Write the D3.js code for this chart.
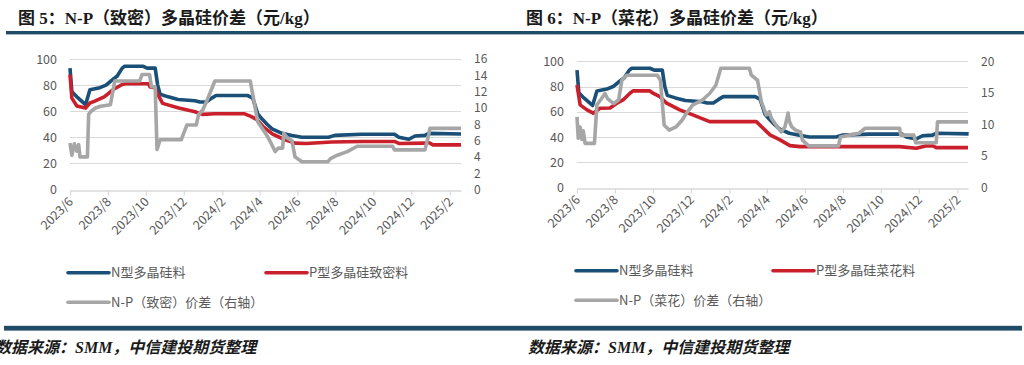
<!DOCTYPE html>
<html>
<head>
<meta charset="utf-8">
<script src="https://cdn.jsdelivr.net/npm/d3@7"></script>
<style>
  body { margin: 0; background: #fff; }
  svg { display: block; }
  text { font-family: "Noto Sans CJK SC", "Noto Sans", sans-serif; }
</style>
</head>
<body>
<svg id="chart" width="1024" height="365"></svg>
<script>
// x axis tick labels (every 2 months)
var tickLabels = ["2023/6", "2023/8", "2023/10", "2023/12", "2024/2", "2024/4",
                  "2024/6", "2024/8", "2024/10", "2024/12", "2025/2"];
var leftTicks = [0, 20, 40, 60, 80, 100];
var denseRightTicks = [0, 2, 4, 6, 8, 10, 12, 14, 16];
var flowerRightTicks = [0, 5, 10, 15, 20];

// N型多晶硅料 (same series in both charts)
var nDates = ["2023-06-01", "2023-06-04", "2023-06-12", "2023-06-26", "2023-07-03", "2023-07-19",
  "2023-07-29", "2023-08-08", "2023-08-16", "2023-08-24", "2023-08-28", "2023-09-26",
  "2023-10-03", "2023-10-16", "2023-10-20", "2023-10-24", "2023-11-06", "2023-11-22",
  "2023-12-19", "2023-12-27", "2024-01-06", "2024-01-15", "2024-01-22", "2024-03-13",
  "2024-03-21", "2024-03-29", "2024-04-05", "2024-04-13", "2024-04-21", "2024-05-07",
  "2024-05-23", "2024-06-08", "2024-07-21", "2024-07-31", "2024-09-12", "2024-11-04",
  "2024-11-11", "2024-11-27", "2024-12-07", "2024-12-23", "2024-12-29", "2025-02-19"];
var nPrice = [93, 75, 71, 65, 76.5, 78,
  80, 84, 87, 93, 94.5, 94.5,
  93, 93, 80, 73, 71, 69,
  68, 67, 67, 70, 72, 72,
  70, 58, 54, 50, 46.5, 43,
  41.4, 40, 40, 41.5, 42.3, 42.3,
  40, 38.5, 41, 41.5, 43, 42.5];

// P型多晶硅致密料
var pDenseDates = ["2023-06-01", "2023-06-04", "2023-06-12", "2023-06-26", "2023-07-03", "2023-07-10",
  "2023-07-26", "2023-08-11", "2023-08-24", "2023-08-30", "2023-10-05", "2023-10-08",
  "2023-10-16", "2023-10-20", "2023-10-28", "2023-11-23", "2023-12-19", "2023-12-31",
  "2024-01-20", "2024-03-08", "2024-03-18", "2024-03-28", "2024-04-07", "2024-04-22",
  "2024-05-10", "2024-05-28", "2024-06-15", "2024-07-26", "2024-09-12", "2024-11-04",
  "2024-11-11", "2024-12-23", "2024-12-29", "2025-01-05", "2025-02-19"];
var pDensePrice = [88, 70, 64, 62.4, 66.3, 67.5,
  71, 77, 80.5, 81, 81, 78.5,
  78, 73, 66, 62.4, 59.6, 57.6,
  58, 58, 56, 53.5, 48, 42.4,
  38.5, 35.5, 35.3, 36.4, 36.8, 36.8,
  35.3, 35.5, 36, 34.2, 34.2];

// N-P（致密）价差（右轴）
var denseSpreadDates = ["2023-06-01", "2023-06-04", "2023-06-08", "2023-06-12", "2023-06-15", "2023-06-17",
  "2023-06-29", "2023-07-01", "2023-07-05", "2023-07-12", "2023-07-20", "2023-08-05",
  "2023-08-12", "2023-09-21", "2023-09-25", "2023-10-07", "2023-10-10", "2023-10-16",
  "2023-10-19", "2023-10-24", "2023-11-27", "2023-12-01", "2023-12-06", "2023-12-21",
  "2023-12-25", "2024-01-01", "2024-01-10", "2024-01-20", "2024-03-17", "2024-03-23",
  "2024-03-29", "2024-04-05", "2024-04-13", "2024-04-18", "2024-04-26", "2024-05-01",
  "2024-05-08", "2024-05-10", "2024-05-16", "2024-05-23", "2024-05-28", "2024-06-08",
  "2024-07-20", "2024-07-24", "2024-08-04", "2024-08-20", "2024-09-05", "2024-11-01",
  "2024-11-04", "2024-12-23", "2024-12-29", "2024-12-31", "2025-02-19"];
var denseSpread = [5.7, 4.2, 5.6, 4.7, 5.5, 4.0,
  4.0, 9.2, 9.6, 10.0, 10.2, 10.4,
  13.3, 13.3, 14.1, 14.1, 12.6, 12.6,
  4.9, 6.1, 6.1, 6.9, 7.9, 7.9,
  9.2, 9.8, 11.4, 13.3, 13.3, 10.8,
  8.3, 7.5, 6.6, 5.9, 4.65, 5.07,
  5.07, 6.9, 6.3, 6.0, 4.0, 3.4,
  3.4, 3.8, 4.2, 4.65, 5.3, 5.3,
  4.86, 4.86, 6.7, 7.5, 7.5];

// P型多晶硅菜花料
var pFlowerDates = ["2023-06-01", "2023-06-06", "2023-06-17", "2023-06-27", "2023-07-08", "2023-07-24",
  "2023-08-04", "2023-08-14", "2023-08-25", "2023-08-30", "2023-09-26", "2023-10-01",
  "2023-10-12", "2023-10-23", "2023-11-13", "2023-12-04", "2023-12-20", "2023-12-31",
  "2024-03-15", "2024-03-23", "2024-04-06", "2024-04-22", "2024-05-08", "2024-05-24",
  "2024-10-31", "2024-11-27", "2024-12-12", "2024-12-24", "2024-12-29", "2025-02-18"];
var pFlowerPrice = [81.3, 65.5, 61.5, 58.9, 62.8, 63,
  66.8, 69.4, 74.7, 76.6, 76.6, 74.7,
  72, 66.8, 61.5, 57.5, 54.4, 52.2,
  52.2, 48.3, 41.7, 37.7, 33.2, 32.4,
  32.4, 31.1, 32.9, 32.9, 31.6, 31.6];

// N-P（菜花）价差（右轴）
var flowerSpreadDates = ["2023-06-01", "2023-06-03", "2023-06-06", "2023-06-09", "2023-06-11", "2023-06-14",
  "2023-06-29", "2023-07-03", "2023-07-09", "2023-07-16", "2023-07-20", "2023-07-30",
  "2023-08-07", "2023-08-12", "2023-08-20", "2023-10-08", "2023-10-13", "2023-10-19",
  "2023-10-27", "2023-11-07", "2023-11-17", "2023-11-24", "2023-12-04", "2023-12-20",
  "2023-12-31", "2024-01-10", "2024-01-18", "2024-03-04", "2024-03-07", "2024-03-17",
  "2024-03-23", "2024-03-31", "2024-04-05", "2024-04-08", "2024-04-19", "2024-04-24",
  "2024-04-30", "2024-05-05", "2024-05-07", "2024-05-11", "2024-05-17", "2024-05-25",
  "2024-05-28", "2024-06-07", "2024-07-25", "2024-07-28", "2024-08-11", "2024-08-27",
  "2024-09-06", "2024-10-31", "2024-11-02", "2024-11-23", "2024-11-26", "2024-12-29",
  "2024-12-31", "2025-02-18"];
var flowerSpread = [11.2, 7.8, 9.6, 7.6, 9.0, 7.0,
  7.0, 13.1, 13.9, 14.9, 14.1, 13.3,
  13.9, 17.0, 17.8, 17.8, 17.0, 9.9,
  9.1, 9.6, 10.7, 11.8, 13.1, 13.9,
  14.9, 16.2, 18.9, 18.9, 17.8, 17.0,
  13.6, 11.5, 12.0, 11.0, 9.4, 8.8,
  9.6, 11.8, 10.5, 9.6, 9.1, 8.8,
  7.5, 6.6, 6.6, 8.0, 8.3, 8.6,
  9.4, 9.4, 8.3, 8.3, 7.1, 7.1,
  10.4, 10.4];

var parseDate = d3.timeParse("%Y-%m-%d");
var parseTick = d3.timeParse("%Y/%m");
var blue = "#1a4f77", red = "#c9202c", grey = "#a6a6a6";
var svg = d3.select("#chart");

function pairs(dates, vals) {
    return dates.map(function (d, i) { return { date: parseDate(d), v: vals[i] }; });
}

function drawPanel(cfg) {
    var g = svg.append("g");

    var x = d3.scaleTime()
        .domain([parseDate("2023-06-01"), parseDate(cfg.end)])
        .range([cfg.left, cfg.right]);
    var y = d3.scaleLinear().domain([0, 100]).range([cfg.bottom, cfg.top]);
    var y2 = d3.scaleLinear().domain([0, d3.max(cfg.rightTicks)]).range([cfg.bottom, cfg.top]);

    // gridlines
    g.append("g").selectAll("line")
        .data(leftTicks.filter(function (t) { return t > 0; }))
        .join("line")
        .attr("x1", cfg.left).attr("x2", cfg.right)
        .attr("y1", function (d) { return Math.round(y(d)) + 0.5; })
        .attr("y2", function (d) { return Math.round(y(d)) + 0.5; })
        .attr("stroke", "#d9d9d9").attr("stroke-width", 1.2);

    // bottom axis
    var xa = g.append("g")
        .attr("transform", "translate(0," + (Math.round(cfg.bottom) + 0.5) + ")")
        .call(d3.axisBottom(x)
            .tickValues(tickLabels.map(parseTick))
            .tickSize(5).tickSizeOuter(0).tickFormat(""));
    xa.select(".domain").attr("stroke", "#d9d9d9").attr("stroke-width", 1.5);
    xa.selectAll(".tick line").attr("stroke", "#d9d9d9").attr("stroke-width", 1.2);

    g.append("g").selectAll("text")
        .data(tickLabels)
        .join("text")
        .attr("transform", function (d) {
            return "translate(" + (x(parseTick(d)) + 4) + "," + (cfg.bottom + 13) + ") rotate(-45)";
        })
        .attr("text-anchor", "end")
        .attr("font-size", 12.5)
        .attr("fill", "#595959")
        .text(function (d) { return d; });

    // left axis
    var la = g.append("g")
        .attr("transform", "translate(" + cfg.left + ",0)")
        .call(d3.axisLeft(y).tickValues(leftTicks).tickSize(0).tickPadding(13));
    la.select(".domain").remove();
    la.selectAll("text").attr("font-size", 12.5).attr("fill", "#595959")
        .attr("font-family", "\"Liberation Sans\", sans-serif");

    // right axis
    var ra = g.append("g")
        .attr("transform", "translate(" + cfg.right + ",0)")
        .call(d3.axisRight(y2).tickValues(cfg.rightTicks).tickSize(0).tickPadding(cfg.rightPad));
    ra.select(".domain").remove();
    ra.selectAll("text").attr("font-size", 12).attr("fill", "#595959")
        .attr("font-family", "\"Liberation Sans\", sans-serif");

    var line = d3.line().x(function (d) { return x(d.date); }).y(function (d) { return y(d.v); });
    var line2 = d3.line().x(function (d) { return x(d.date); }).y(function (d) { return y2(d.v); });

    g.append("path").datum(pairs(nDates, nPrice))
        .attr("fill", "none").attr("stroke", blue).attr("stroke-width", 3.6)
        .attr("stroke-linejoin", "round").attr("d", line);
    g.append("path").datum(pairs(cfg.pDates, cfg.pVals))
        .attr("fill", "none").attr("stroke", red).attr("stroke-width", 3.6)
        .attr("stroke-linejoin", "round").attr("d", line);
    g.append("path").datum(pairs(cfg.sDates, cfg.sVals))
        .attr("fill", "none").attr("stroke", grey).attr("stroke-width", 3.6)
        .attr("stroke-linejoin", "round").attr("d", line2);

    // legend
    var items = [
        { name: "N型多晶硅料", color: blue, x: cfg.legX, y: cfg.legY },
        { name: cfg.pName, color: red, x: cfg.legX2, y: cfg.legY },
        { name: cfg.sName, color: grey, x: cfg.legX, y: cfg.legY + 29.5 }
    ];
    var lg = g.append("g").selectAll("g").data(items).join("g")
        .attr("transform", function (d) { return "translate(" + d.x + "," + d.y + ")"; });
    lg.append("line").attr("x1", 0).attr("x2", 41)
        .attr("stroke", function (d) { return d.color; })
        .attr("stroke-width", 3.6).attr("stroke-linecap", "round");
    lg.append("text").attr("x", 43).attr("y", 4.5)
        .attr("font-size", 13).attr("fill", "#595959")
        .text(function (d) { return d.name; });

    // title
    g.append("text")
        .attr("x", cfg.titleX).attr("y", 24)
        .attr("font-size", 17).attr("font-weight", "bold").attr("fill", "#1a1a1a")
        .style("font-family", "\"Liberation Serif\", \"Noto Sans CJK SC\", serif")
        .text(cfg.title);

    // source
    g.append("text")
        .attr("x", cfg.srcX).attr("y", 353)
        .attr("font-size", 16).attr("font-weight", "bold").attr("font-style", "italic")
        .attr("fill", "#1a1a1a")
        .style("font-family", "\"Liberation Serif\", \"Noto Sans CJK SC\", serif")
        .text("数据来源：SMM，中信建投期货整理");
}

// rules
svg.append("rect").attr("x", 6).attr("y", 31).attr("width", 1018).attr("height", 3.4).attr("fill", "#1f4b66");
svg.append("rect").attr("x", 4).attr("y", 325.8).attr("width", 1018).attr("height", 4.8).attr("fill", "#1f4b66");

drawPanel({
    left: 70, right: 461, top: 59, bottom: 189.5, end: "2025-02-19",
    rightTicks: denseRightTicks, rightPad: 13,
    pDates: pDenseDates, pVals: pDensePrice,
    sDates: denseSpreadDates, sVals: denseSpread,
    pName: "P型多晶硅致密料", sName: "N-P（致密）价差（右轴）",
    legX: 68, legX2: 266, legY: 272.7,
    title: "图 5：N-P（致密）多晶硅价差（元/kg）", titleX: 18, srcX: -5
});

drawPanel({
    left: 577, right: 968, top: 61.3, bottom: 187.5, end: "2025-02-18",
    rightTicks: flowerRightTicks, rightPad: 13,
    pDates: pFlowerDates, pVals: pFlowerPrice,
    sDates: flowerSpreadDates, sVals: flowerSpread,
    pName: "P型多晶硅菜花料", sName: "N-P（菜花）价差（右轴）",
    legX: 576, legX2: 773, legY: 270.7,
    title: "图 6：N-P（菜花）多晶硅价差（元/kg）", titleX: 526, srcX: 528
});
</script>
</body>
</html>
